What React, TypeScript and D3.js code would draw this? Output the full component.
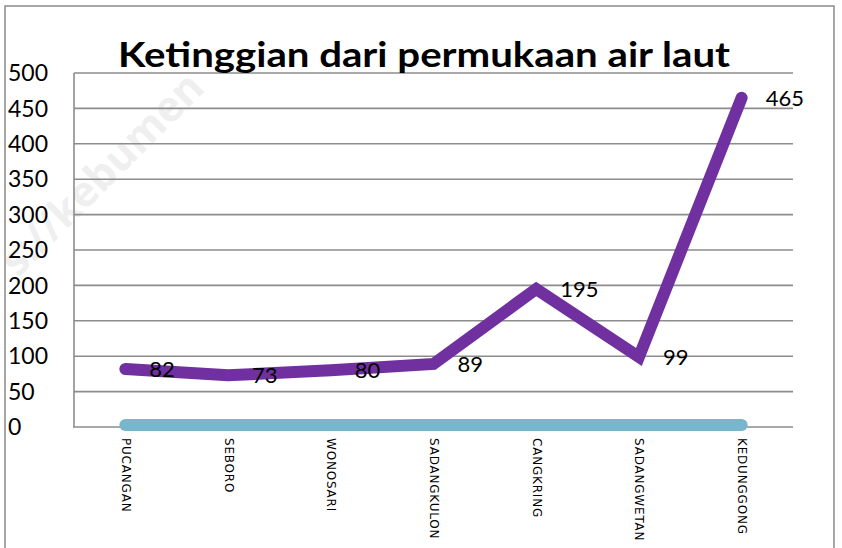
import React from "react";
import * as d3 from "d3";

// chart data
const categories = ["PUCANGAN", "SEBORO", "WONOSARI", "SADANGKULON", "CANGKRING", "SADANGWETAN", "KEDUNGGONG"];
const heights = [82, 73, 80, 89, 195, 99, 465];
const baseSeries = [0, 0, 0, 0, 0, 0, 0];
const yTicks = [0, 50, 100, 150, 200, 250, 300, 350, 400, 450, 500];
const title = "Ketinggian dari permukaan air laut";

const W = 842;
const H = 548;
const plot = { left: 74, right: 793, top: 73, bottom: 427 };

const App = () => {
  const x = d3.scaleBand<string>().domain(categories).range([plot.left, plot.right]);
  const y = d3.scaleLinear().domain([0, 500]).range([plot.bottom, plot.top]);
  const cx = (c: string) => (x(c) as number) + x.bandwidth() / 2;

  const line = d3
    .line<number>()
    .x((_, i) => cx(categories[i]))
    .y((d) => y(d));

  return (
    <svg width={W} height={H} style={{ position: "absolute", left: 0, top: 0 }} fontFamily="Lato">
      <rect x={0} y={0} width={W} height={H} fill="#fff" />
      {/* faint watermark */}
      <text
        transform="translate(18,278) rotate(-45)"
        fontSize={42}
        fontWeight="bold"
        fill="#efefef"
        fontFamily="Open Sans"
      >
        s://kebumen
      </text>
      <rect x={5} y={6} width={829} height={570} fill="none" stroke="#8a8a8a" strokeWidth={1.5} />

      {/* gridlines */}
      {yTicks.map((t) => (
        <g key={t}>
          {t > 0 && (
            <line x1={plot.left} x2={plot.right} y1={y(t)} y2={y(t)} stroke="#8c8c8c" strokeWidth={1.6} />
          )}
          <text x={8} y={y(t)} dy="0.36em" fontSize={23} fill="#000">
            {t}
          </text>
        </g>
      ))}
      <line x1={plot.left} x2={plot.left} y1={plot.top} y2={plot.bottom} stroke="#8c8c8c" strokeWidth={1.6} />
      <line x1={plot.left - 1} x2={plot.right} y1={plot.bottom} y2={plot.bottom} stroke="#8c8c8c" strokeWidth={1.6} />

      {/* title */}
      <text
        x={424}
        y={67}
        textAnchor="middle"
        fontSize={34}
        fontWeight="bold"
        textLength={612}
        lengthAdjust="spacingAndGlyphs"
        fill="#000"
      >
        {title}
      </text>

      {/* series */}
      <path
        d={line(baseSeries) ?? ""}
        fill="none"
        stroke="#77B6CD"
        strokeWidth={12}
        strokeLinecap="round"
        transform="translate(0,-2)"
      />
      <path
        d={line(heights) ?? ""}
        fill="none"
        stroke="#7030A0"
        strokeWidth={12}
        strokeLinecap="round"
        strokeLinejoin="miter"
      />

      {/* data labels */}
      {heights.map((v, i) => (
        <text key={i} x={cx(categories[i]) + 24} y={y(v)} dy="0.36em" fontSize={22} fill="#000">
          {v}
        </text>
      ))}

      {/* category labels */}
      {categories.map((c) => (
        <text
          key={c}
          transform={`translate(${cx(c)},438) rotate(90)`}
          dominantBaseline="middle"
          fontSize={12}
          letterSpacing={0.8}
          fontFamily="DejaVu Sans"
          fill="#000"
        >
          {c}
        </text>
      ))}
    </svg>
  );
};

export default App;
